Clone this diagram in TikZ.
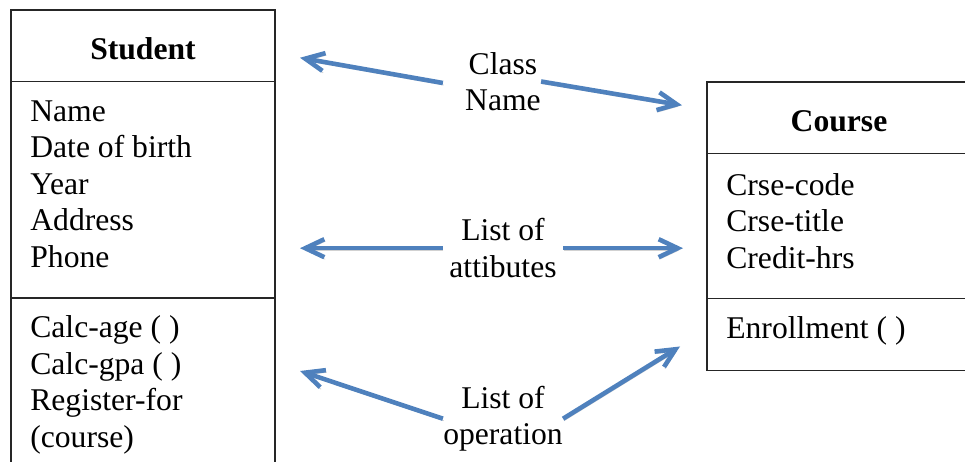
\documentclass[tikz,border=0pt]{standalone}
\usepackage{fontspec}
\setmainfont{Liberation Serif}
\usepackage{tikz}
\usetikzlibrary{arrows.meta, positioning, calc}
\definecolor{linkblue}{RGB}{79,129,189}

\begin{document}
\begin{tikzpicture}[
  compart/.style={rectangle, draw=black!85, line width=0.7pt, minimum width=5.28cm, inner sep=0pt, outer sep=0pt},
  classhead/.style={compart, minimum height=1.43cm, text height=0.54cm, text depth=0pt, font=\fontsize{18}{20.8}\selectfont\bfseries},
  members/.style={anchor=north west, inner sep=0pt, align=left, font=\fontsize{18}{20.8}\selectfont},
  lbl/.style={inner sep=0pt, align=center, font=\fontsize{18}{20.8}\selectfont},
  link/.style={draw=linkblue, line width=2.6pt, -{Straight Barb[length=3.8mm, width=3.6mm]},
    preaction={draw=black!18, transform canvas={shift={(0.5pt,-1.2pt)}}}}
]
\useasboundingbox (0,0) rectangle (19.3,9.24);
\node[classhead] (stuhead) at (2.86, 8.325) {Student};
\node[compart, minimum height=4.33cm, below=0pt of stuhead] (stuattr) {};
\node[compart, minimum height=3.6cm, below=0pt of stuattr] (stuops) {};
\node[members] (stuattrtext) at ([shift={(0.38,-0.37)}]stuattr.north west) {Name\\Date of birth\\Year\\Address\\Phone};
\node[members] (stuopstext) at ([shift={(0.38,-0.35)}]stuops.north west) {Calc-age ( )\\Calc-gpa ( )\\Register-for\\(course)};
\node[classhead] (couhead) at (16.78, 6.885) {Course};
\node[compart, minimum height=2.9cm, below=0pt of couhead] (couattr) {};
\node[compart, minimum height=1.44cm, below=0pt of couattr] (couops) {};
\node[members] (couattrtext) at ([shift={(0.38,-0.39)}]couattr.north west) {Crse-code\\Crse-title\\Credit-hrs};
\node[members] (couopstext) at ([shift={(0.38,-0.35)}]couops.north west) {Enrollment ( )};
\node[lbl] (classlbl) at (10.06, 7.61) {Class\\Name};
\node[lbl] (attrlbl) at (10.06, 4.276) {List of\\attibutes};
\node[lbl] (opslbl) at (10.06, 0.866) {List of\\operation};
\draw[link] ([shift={(-0.44,-0.03)}]classlbl.west) -- ([shift={(0.5,-0.24)}]stuhead.east);
\draw[link] (classlbl.east) -- ([shift={(-0.5,0.25)}]couhead.west);
\draw[link] ([xshift=-0.13cm]attrlbl.west) -- ($(stuattr.east |- attrlbl.west)+(0.5,0)$);
\draw[link] ([xshift=0.13cm]attrlbl.east) -- ($(couattr.west |- attrlbl.east)+(-0.48,0)$);
\draw[link] (opslbl.west) -- ([shift={(0.5,-1.46)}]stuops.north east);
\draw[link] (opslbl.east) -- ([shift={(-0.54,-0.24)}]couops.west);
\end{tikzpicture}
\end{document}
